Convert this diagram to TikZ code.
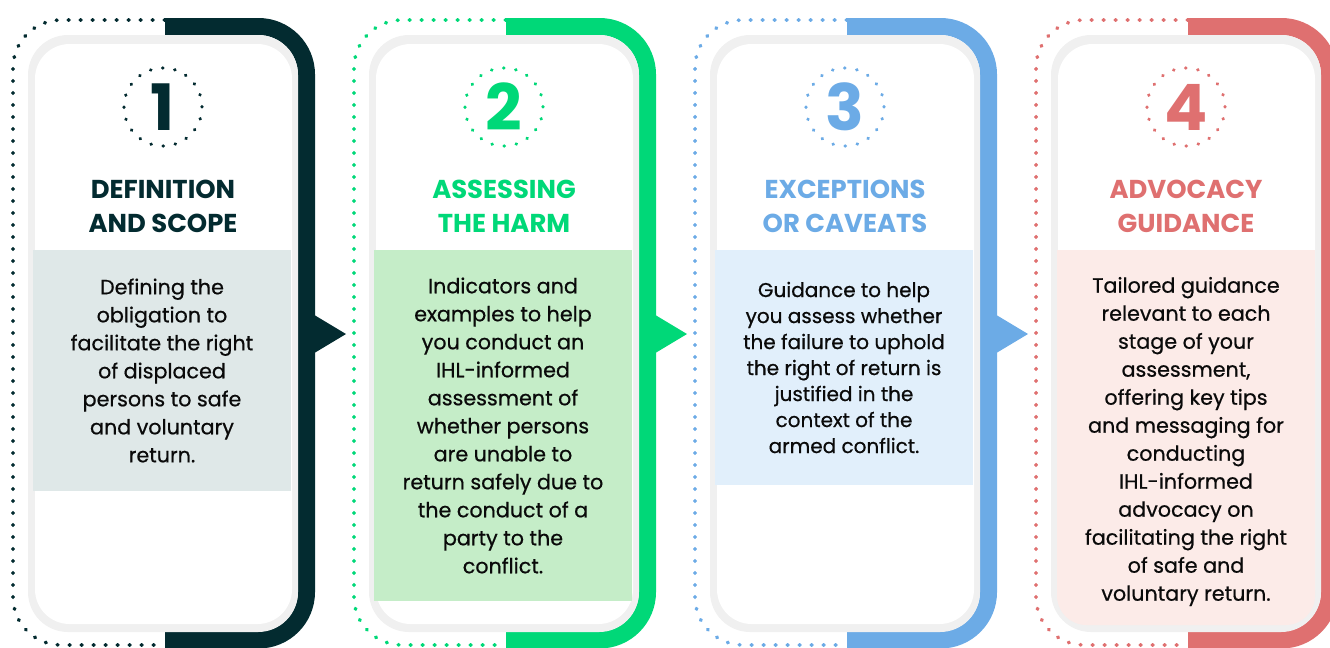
\documentclass[tikz,border=0pt]{standalone}
\usepackage{fontspec}
\setmainfont{Poppins}
\newfontfamily\bodyfont{Poppins}[FakeBold=0.6]
\definecolor{darkteal}{HTML}{032B30}
\definecolor{brightgreen}{HTML}{00D878}
\definecolor{skyblue}{HTML}{6CABE6}
\definecolor{coral}{HTML}{DF7070}
\definecolor{tealpale}{HTML}{DFE8E8}
\definecolor{greenpale}{HTML}{C5EDC8}
\definecolor{bluepale}{HTML}{E1EFFB}
\definecolor{coralpale}{HTML}{FCEBE8}
\definecolor{cardedge}{HTML}{F0F0F0}
\definecolor{bodyink}{HTML}{0A0A0A}
\tikzset{
  dotframe/.style={line width=2.8pt, line cap=round, dash pattern=on 0.5pt off 8.5pt, rounded corners=36pt},
  band/.style={line width=12.75pt, rounded corners=36pt},
  numring/.style={circle, draw, minimum size=58.5pt, inner sep=0pt, line width=2.5pt, line cap=round,
    dash pattern=on 0.3pt off 8.889pt, font=\bfseries\fontsize{48}{48}\selectfont},
  titletext/.style={align=center, font=\bfseries\fontsize{19.4}{25.5}\selectfont},
  bodybox/.style={align=center, minimum width=193.5pt, inner sep=0pt, text=bodyink,
    font=\bodyfont\fontsize{15.5}{21}\selectfont},
}
\begin{document}
\begin{tikzpicture}[x=0.75pt,y=-0.75pt]
\useasboundingbox (0,0) rectangle (1330,647);
\clip (0,0) rectangle (1330,647);
% card 1
\draw[dotframe, darkteal] (165,20) -- (13,20) -- (13,645) -- (165,645);
\draw[band, darkteal] (165,26.5) -- (306.5,26.5) -- (306.5,640) -- (165,640);
\fill[darkteal] (306,310) -- (346,334) -- (306,358) -- cycle;
\fill[cardedge, rounded corners=30pt] (28,35) rectangle (298,632);
\fill[white, rounded corners=26pt] (35,44) rectangle (292,624);
\node[numring, draw=darkteal, text=darkteal] (num1) at (163,107) {1};
\node[titletext, text=darkteal] (title1) at (163,206) {DEFINITION\\AND SCOPE};
\node[bodybox, fill=tealpale, minimum height=180.75pt] (body1) at (162,370.5)
  {Defining the\\obligation to\\facilitate the right\\of displaced\\persons to safe\\and voluntary\\return.};
% card 2
\begin{scope}[xshift=255.75pt]
\draw[dotframe, brightgreen] (165,20) -- (13,20) -- (13,645) -- (165,645);
\draw[band, brightgreen] (165,26.5) -- (306.5,26.5) -- (306.5,640) -- (165,640);
\fill[brightgreen] (306,310) -- (346,334) -- (306,358) -- cycle;
\fill[cardedge, rounded corners=30pt] (28,35) rectangle (298,632);
\fill[white, rounded corners=26pt] (35,44) rectangle (292,624);
\node[numring, draw=brightgreen, text=brightgreen] (num2) at (163,107) {2};
\node[titletext, text=brightgreen] (title2) at (163,206) {ASSESSING\\THE HARM};
\node[bodybox, fill=greenpale, minimum height=263.25pt] (body2) at (162,425.5)
  {Indicators and\\examples to help\\you conduct an\\IHL-informed\\assessment of\\whether persons\\are unable to\\return safely due to\\the conduct of a\\party to the\\conflict.};
\end{scope}
% card 3
\begin{scope}[xshift=511.5pt]
\draw[dotframe, skyblue] (165,20) -- (13,20) -- (13,645) -- (165,645);
\draw[band, skyblue] (165,26.5) -- (306.5,26.5) -- (306.5,640) -- (165,640);
\fill[skyblue] (306,310) -- (346,334) -- (306,358) -- cycle;
\fill[cardedge, rounded corners=30pt] (28,35) rectangle (298,632);
\fill[white, rounded corners=26pt] (35,44) rectangle (292,624);
\node[numring, draw=skyblue, text=skyblue] (num3) at (163,107) {3};
\node[titletext, text=skyblue] (title3) at (163,206) {EXCEPTIONS\\OR CAVEATS};
\node[bodybox, fill=bluepale, minimum height=176.25pt, font=\bodyfont\fontsize{15}{19.5}\selectfont] (body3) at (162,367.5)
  {Guidance to help\\you assess whether\\the failure to uphold\\the right of return is\\justified in the\\context of the\\armed conflict.};
\end{scope}
% card 4
\begin{scope}[xshift=767.25pt]
\draw[dotframe, coral] (165,20) -- (13,20) -- (13,645) -- (165,645);
\draw[band, coral] (165,26.5) -- (306.5,26.5) -- (306.5,640) -- (165,640);
\fill[cardedge, rounded corners=30pt] (28,35) rectangle (298,632);
\fill[white, rounded corners=26pt] (35,44) rectangle (292,624);
\fill[coralpale] (34,250) rectangle (292,450);
\fill[coralpale, rounded corners=22pt] (34,300) rectangle (292,625);
\node[numring, draw=coral, text=coral] (num4) at (163,107) {4};
\node[titletext, text=coral] (title4) at (163,206) {ADVOCACY\\GUIDANCE};
\node[bodybox] (body4) at (163,441.5)
  {Tailored guidance\\relevant to each\\stage of your\\assessment,\\offering key tips\\and messaging for\\conducting\\IHL-informed\\advocacy on\\facilitating the right\\of safe and\\voluntary return.};
\end{scope}
\end{tikzpicture}
\end{document}
